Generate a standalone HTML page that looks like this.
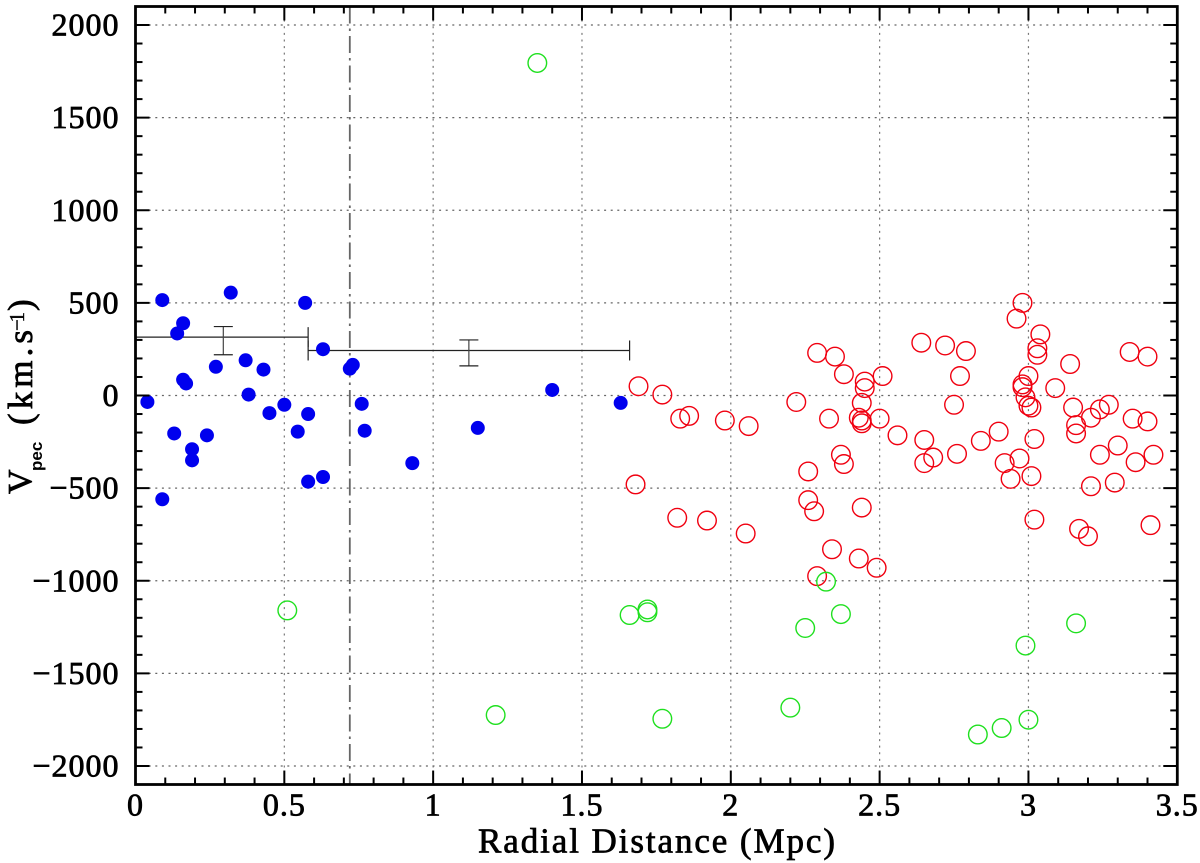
<!DOCTYPE html>
<html lang="en">
<head>
<meta charset="utf-8">
<title>Peculiar velocity vs radial distance</title>
<style>
html,body{margin:0;padding:0;background:#fff;width:1200px;height:863px;overflow:hidden}
svg{display:block}
.lab{font-family:"Liberation Serif",serif;font-size:32px;fill:#000;stroke:#000;stroke-width:.75px;letter-spacing:1px}
</style>
</head>
<body>
<svg id="chart" xmlns="http://www.w3.org/2000/svg" width="1200" height="863" viewBox="0 0 1200 863">
  <g id="grid"></g>
  <g id="refline"></g>
  <g id="errs"></g>
  <g id="blue"></g>
  <g id="red"></g>
  <g id="green"></g>
  <g id="ticks"></g>
  <rect x="135.5" y="6.5" width="1041.8" height="778" fill="none" stroke="#000" stroke-width="2.8"/>
  <g id="labels"></g>
  <text class="lab" x="478" y="852.5" style="font-size:35px;letter-spacing:0" textLength="357" lengthAdjust="spacing">Radial Distance (Mpc)</text>
  <g>
    <text class="lab" transform="translate(31,494) rotate(-90)" style="font-size:34px;letter-spacing:0">V</text>
    <text transform="translate(42,471) rotate(-90)" style="font-family:'Liberation Sans',sans-serif;font-weight:bold;font-size:17px">pec</text>
    <text class="lab" transform="translate(32,425) rotate(-90)" style="font-size:35px;letter-spacing:0" textLength="95" lengthAdjust="spacing">(km.s</text>
    <text class="lab" transform="translate(24,331) rotate(-90)" style="font-size:21px;letter-spacing:0;stroke-width:.4px" textLength="19" lengthAdjust="spacing">−1</text>
    <text class="lab" transform="translate(32,311) rotate(-90)" style="font-size:35px;letter-spacing:0">)</text>
  </g>
</svg>
<script>
const xTickValues = [0, 0.5, 1, 1.5, 2, 2.5, 3, 3.5];
const xTickLabels = ["0", "0.5", "1", "1.5", "2", "2.5", "3", "3.5"];
const yTickValues = [2000, 1500, 1000, 500, 0, -500, -1000, -1500, -2000];
const yTickLabels = ["2000", "1500", "1000", "500", "0", "−500", "−1000", "−1500", "−2000"];
const referenceRadius = 0.72;
const blueX = [0.04,0.09,0.09,0.13,0.14,0.16,0.16,0.17,0.19,0.19,0.24,0.27,0.32,0.37,0.38,0.43,0.45,0.50,0.545,0.57,0.58,0.58,0.63,0.63,0.72,0.73,0.76,0.77,0.93,1.15,1.40,1.63];
const blueV = [-35,515,-560,-205,335,85,390,65,-290,-350,-215,155,555,190,5,140,-95,-50,-195,500,-100,-465,250,-440,145,165,-45,-190,-365,-175,30,-40];
const redX = [1.69,1.77,1.83,1.86,1.98,2.06,1.68,1.82,1.92,2.05,2.22,2.29,2.35,2.38,2.33,2.37,2.38,2.26,2.26,2.28,2.34,2.29,2.43,2.44,2.49,2.51,2.45,2.45,2.44,2.43,2.44,2.44,2.50,2.56,2.64,2.72,2.79,2.77,2.75,2.65,2.65,2.68,2.76,2.84,2.90,2.92,2.94,2.97,2.96,2.98,3.04,3.03,3.03,3.00,2.98,2.98,2.99,3.00,3.01,3.09,3.02,3.01,3.02,3.14,3.15,3.16,3.16,3.21,3.24,3.27,3.21,3.17,3.20,3.24,3.29,3.30,3.34,3.40,3.35,3.40,3.36,3.42,3.41];
const redV = [50,5,-125,-110,-135,-165,-480,-660,-675,-745,-35,230,210,115,-125,-320,-370,-410,-565,-625,-830,-975,-880,-605,-930,105,75,40,-40,-120,-135,-150,-125,-215,285,270,240,105,-50,-240,-365,-335,-315,-245,-195,-365,-450,-340,415,500,330,255,220,105,60,45,-10,-55,-65,40,-235,-435,-670,170,-65,-160,-205,-120,-75,-50,-490,-720,-760,-320,-470,-270,235,210,-125,-140,-360,-320,-700];
const greenX = [1.35,0.51,1.66,1.72,1.72,1.21,1.77,2.20,2.25,2.32,2.37,2.83,2.91,3.00,2.99,3.16];
const greenV = [1795,-1160,-1185,-1155,-1170,-1725,-1745,-1685,-1255,-1005,-1180,-1830,-1795,-1750,-1350,-1230];
const binLow = [0, 0.58];
const binHigh = [0.58, 1.66];
const binMean = [315, 243];
const binCentre = [0.295, 1.12];
const binErrLow = [220, 160];
const binErrHigh = [372, 300];

const NS = 'http://www.w3.org/2000/svg';
const xScale = function (v) { return 135.5 + v * 297.65; };
const yScale = function (v) { return 395.5 - v * 0.18525; };
const xMin = 0, xMax = 3.5, yMin = -2100, yMax = 2100;

function make(parent, tag, attrs) {
  const el = document.createElementNS(NS, tag);
  for (const k in attrs) el.setAttribute(k, attrs[k]);
  parent.appendChild(el);
  return el;
}
function segment(parent, x1, y1, x2, y2, stroke, width, dash) {
  const el = make(parent, 'line', { x1: x1, y1: y1, x2: x2, y2: y2, stroke: stroke, 'stroke-width': width });
  if (dash) el.setAttribute('stroke-dasharray', dash);
  return el;
}

const gridG = document.getElementById('grid');
xTickValues.forEach(function (v) {
  if (v <= xMin || v >= xMax) return;
  const el = segment(gridG, xScale(v), yScale(yMax), xScale(v), yScale(yMin), '#777', 1.2, '2 4.6');
  
  
});
yTickValues.forEach(function (v) {
  const el = segment(gridG, xScale(xMin), yScale(v), xScale(xMax), yScale(v), '#666', 1.2, '2 4.6');
  
  
});

const refG = document.getElementById('refline');
const refEl = segment(refG, xScale(referenceRadius), yScale(yMax), xScale(referenceRadius), yScale(yMin), '#666', 1.8, '17 5 2.5 5');



const errG = document.getElementById('errs');
binMean.forEach(function (m, i) {
  const g = make(errG, 'g', {});
  
  
  segment(g, xScale(binLow[i]), yScale(m), xScale(binHigh[i]), yScale(m), '#222', 1.2);
  segment(g, xScale(binHigh[i]), yScale(m) - 10, xScale(binHigh[i]), yScale(m) + 10, '#222', 1.2);
  if (i > 0) segment(g, xScale(binLow[i]), yScale(m) - 10, xScale(binLow[i]), yScale(m) + 10, '#222', 1.2);
  const cx = xScale(binCentre[i]);
  segment(g, cx, yScale(binErrLow[i]), cx, yScale(binErrHigh[i]), '#444', 1.2);
  segment(g, cx - 9.5, yScale(binErrLow[i]), cx + 9.5, yScale(binErrLow[i]), '#222', 1.2);
  segment(g, cx - 9.5, yScale(binErrHigh[i]), cx + 9.5, yScale(binErrHigh[i]), '#222', 1.2);
});

const blueG = document.getElementById('blue');
blueX.forEach(function (x, i) {
  const el = make(blueG, 'circle', { cx: xScale(x), cy: yScale(blueV[i]), r: 7, fill: '#0000ee' });
  
  
});
const redG = document.getElementById('red');
redX.forEach(function (x, i) {
  const el = make(redG, 'circle', { cx: xScale(x), cy: yScale(redV[i]), r: 9.3, fill: 'none', stroke: '#f00010', 'stroke-width': 1.4 });
  
  
});
const greenG = document.getElementById('green');
greenX.forEach(function (x, i) {
  const el = make(greenG, 'circle', { cx: xScale(x), cy: yScale(greenV[i]), r: 9.3, fill: 'none', stroke: '#1fe01f', 'stroke-width': 1.4 });
  
  
});

const tickG = document.getElementById('ticks');
for (let t = 1; t < 35; t++) {
  const v = t / 10;
  const len = t % 5 === 0 ? 14 : 7;
  const a = segment(tickG, xScale(v), yScale(yMin), xScale(v), yScale(yMin) - len, '#000', 2);
  
  
  const b = segment(tickG, xScale(v), yScale(yMax), xScale(v), yScale(yMax) + len, '#000', 2);
  
  
}
for (let t = -20; t <= 20; t++) {
  const v = t * 100;
  const len = t % 5 === 0 ? 14 : 7;
  const a = segment(tickG, xScale(xMin), yScale(v), xScale(xMin) + len, yScale(v), '#000', 2);
  
  
  const b = segment(tickG, xScale(xMax), yScale(v), xScale(xMax) - len, yScale(v), '#000', 2);
  
  
}

const labelG = document.getElementById('labels');
xTickValues.forEach(function (v, i) {
  const el = make(labelG, 'text', { x: xScale(v), y: 815.5, 'text-anchor': 'middle', class: 'lab' });
  
  
  el.textContent = xTickLabels[i];
});
yTickValues.forEach(function (v, i) {
  const el = make(labelG, 'text', { x: 119.5, y: yScale(v) + 10.5, 'text-anchor': 'end', class: 'lab' });
  
  
  el.textContent = yTickLabels[i];
});
</script>
</body>
</html>
